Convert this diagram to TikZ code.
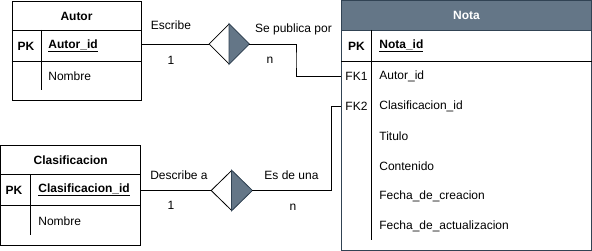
\documentclass[tikz,border=0pt]{standalone}
\usepackage{fontspec}
\setmainfont{Liberation Sans}
\usepackage{tikz}
\usetikzlibrary{shapes.geometric, positioning, calc}
\definecolor{notafill}{HTML}{647687}
\definecolor{notaline}{HTML}{314354}

\begin{document}
\begin{tikzpicture}[
    x=1pt, y=-1pt,
    line width=0.8pt,
    txt/.style={inner sep=0pt, font=\fontsize{12}{14}\selectfont},
    field/.style={txt, anchor=west},
    keycol/.style={txt, font=\fontsize{12}{14}\selectfont\bfseries},
    tablebox/.style={draw, rectangle, inner sep=0pt},
    rel/.style={diamond, draw, fill=white, inner sep=0pt, minimum width=40pt, minimum height=40pt}
]
    \useasboundingbox (0,0) rectangle (592,251);

    % Autor
    \node[tablebox, minimum width=129pt, minimum height=99pt] (autor) at (76.5,50.5) {};
    \draw (autor.west |- 0,30) -- (autor.east |- 0,30);
    \draw (autor.west |- 0,61) -- (autor.east |- 0,61);
    \draw (41.5,30) -- (41.5,90);
    \node[keycol] (autorhead) at (76.5,16) {Autor};
    \node[keycol] (autorpk) at (26,46) {PK};
    \node[field, font=\fontsize{12}{14}\selectfont\bfseries] (autorid) at (48,46) {\underline{Autor\_id}};
    \node[field] (autornombre) at (48,76) {Nombre};

    % Clasificacion
    \node[tablebox, minimum width=140pt, minimum height=100pt] (clas) at (70.75,195) {};
    \draw (clas.west |- 0,174.5) -- (clas.east |- 0,174.5);
    \draw (clas.west |- 0,205.5) -- (clas.east |- 0,205.5);
    \draw (30.5,174.5) -- (30.5,235);
    \node[keycol] (clashead) at (70.75,160) {Clasificacion};
    \node[keycol] (claspk) at (14,190) {PK};
    \node[field, font=\fontsize{12}{14}\selectfont\bfseries] (clasid) at (38,190) {\underline{Clasificacion\_id}};
    \node[field] (clasnombre) at (38,221) {Nombre};

    % Nota
    \fill[notafill] (341.5,0.5) rectangle (591.5,30);
    \node[tablebox, draw=notaline, minimum width=250pt, minimum height=249.5pt] (nota) at (466.5,125.25) {};
    \draw[notaline] (nota.west |- 0,30) -- (nota.east |- 0,30);
    \draw (nota.west |- 0,61) -- (nota.east |- 0,61);
    \draw (371.5,30) -- (371.5,240);
    \node[keycol, text=white] (notahead) at (466.5,15.5) {Nota};
    \node[keycol] (notapk) at (356.5,46) {PK};
    \node[txt] (fk1) at (356.5,76) {FK1};
    \node[txt] (fk2) at (356.5,106) {FK2};
    \node[field, font=\fontsize{12}{14}\selectfont\bfseries] (notaid) at (379,46) {\underline{Nota\_id}};
    \node[field] (notaautor) at (379,76) {Autor\_id};
    \node[field] (notaclas) at (379,106) {Clasificacion\_id};
    \node[field] (titulo) at (379,136) {Titulo};
    \node[field] (contenido) at (379,166) {Contenido};
    \node[field] (creacion) at (379,196) {Fecha\_de\_creacion};
    \node[field] (actualizacion) at (379,226) {Fecha\_de\_actualizacion};

    % relaciones
    \node[rel] (escribe) at (229,44) {};
    \fill[notafill, draw=notaline] (escribe.north) -- (escribe.east) -- (escribe.south) -- cycle;
    \node[rel, minimum width=41pt] (describe) at (231.5,190.5) {};
    \fill[notafill, draw=notaline] (describe.north) -- (describe.east) -- (describe.south) -- cycle;

    \coordinate (bend1) at (296,60);
    \coordinate (bend2) at (331.5,150);

    \draw (autor.east |- escribe) -- (escribe.west);
    \draw (escribe.east) -| (bend1) |- (nota.west |- fk1);
    \draw (clas.east |- describe) -- (describe.west);
    \draw (describe.east) -| (bend2) |- (nota.west |- fk2);

    % etiquetas
    \node[txt] (lblescribe) at (171,25) {Escribe};
    \node[txt] (lbluno1) at (171,60) {1};
    \node[txt] (lblpublica) at (293.5,29) {Se publica por};
    \node[txt] (lblene1) at (270,60) {n};
    \node[txt] (lbldescribe) at (179,175) {Describe a};
    \node[txt] (lbluno2) at (171,205) {1};
    \node[txt] (lbldeuna) at (291.5,175) {Es de una};
    \node[txt] (lblene2) at (293,207) {n};
\end{tikzpicture}
\end{document}
